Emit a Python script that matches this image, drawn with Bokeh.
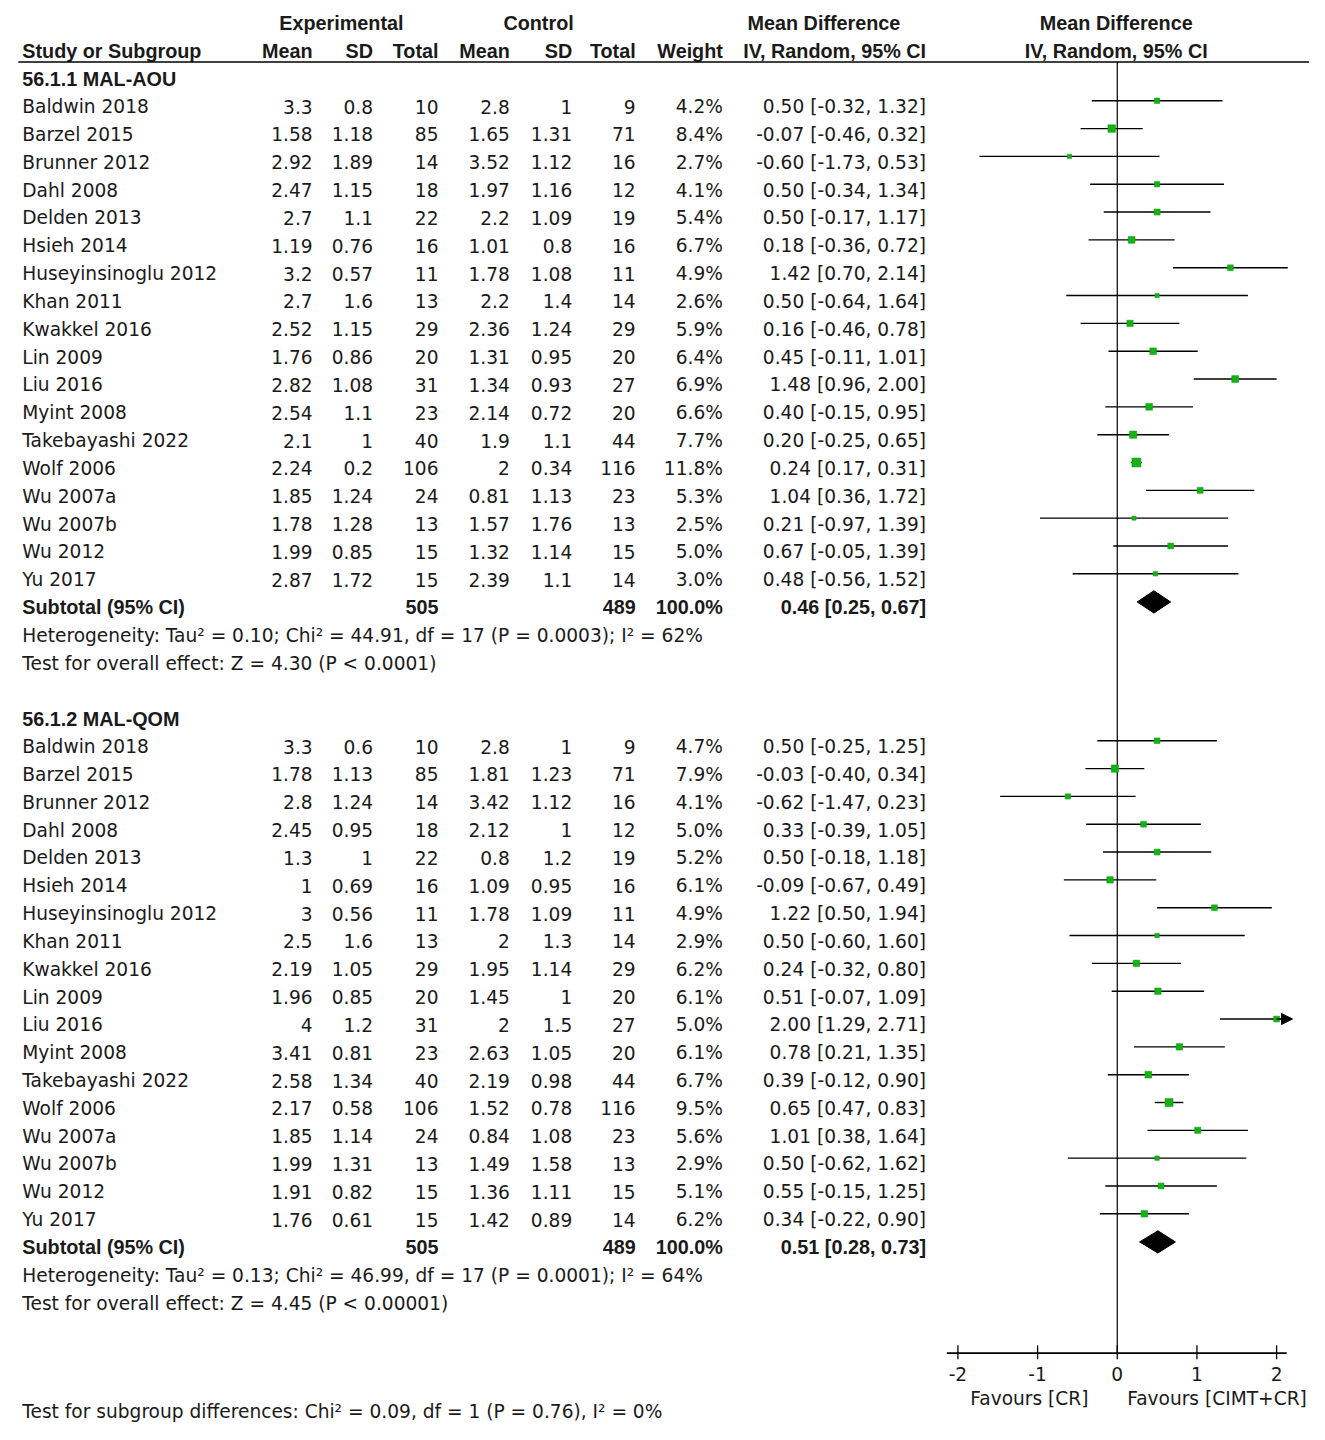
from bokeh.plotting import figure
from bokeh.models import Range1d, Arrow, NormalHead
from bokeh.core.properties import value
from bokeh.embed import file_html
from bokeh.resources import INLINE

# ---------------- data ----------------
studies = ["Baldwin 2018", "Barzel 2015", "Brunner 2012", "Dahl 2008", "Delden 2013",
           "Hsieh 2014", "Huseyinsinoglu 2012", "Khan 2011", "Kwakkel 2016", "Lin 2009",
           "Liu 2016", "Myint 2008", "Takebayashi 2022", "Wolf 2006", "Wu 2007a",
           "Wu 2007b", "Wu 2012", "Yu 2017"]

g1_title = "56.1.1 MAL-AOU"
g1_exp_mean = [3.3, 1.58, 2.92, 2.47, 2.7, 1.19, 3.2, 2.7, 2.52, 1.76, 2.82, 2.54, 2.1, 2.24, 1.85, 1.78, 1.99, 2.87]
g1_exp_sd = [0.8, 1.18, 1.89, 1.15, 1.1, 0.76, 0.57, 1.6, 1.15, 0.86, 1.08, 1.1, 1, 0.2, 1.24, 1.28, 0.85, 1.72]
g1_exp_n = [10, 85, 14, 18, 22, 16, 11, 13, 29, 20, 31, 23, 40, 106, 24, 13, 15, 15]
g1_ctl_mean = [2.8, 1.65, 3.52, 1.97, 2.2, 1.01, 1.78, 2.2, 2.36, 1.31, 1.34, 2.14, 1.9, 2, 0.81, 1.57, 1.32, 2.39]
g1_ctl_sd = [1, 1.31, 1.12, 1.16, 1.09, 0.8, 1.08, 1.4, 1.24, 0.95, 0.93, 0.72, 1.1, 0.34, 1.13, 1.76, 1.14, 1.1]
g1_ctl_n = [9, 71, 16, 12, 19, 16, 11, 14, 29, 20, 27, 20, 44, 116, 23, 13, 15, 14]
g1_weight = [4.2, 8.4, 2.7, 4.1, 5.4, 6.7, 4.9, 2.6, 5.9, 6.4, 6.9, 6.6, 7.7, 11.8, 5.3, 2.5, 5.0, 3.0]
g1_md = [0.50, -0.07, -0.60, 0.50, 0.50, 0.18, 1.42, 0.50, 0.16, 0.45, 1.48, 0.40, 0.20, 0.24, 1.04, 0.21, 0.67, 0.48]
g1_lo = [-0.32, -0.46, -1.73, -0.34, -0.17, -0.36, 0.70, -0.64, -0.46, -0.11, 0.96, -0.15, -0.25, 0.17, 0.36, -0.97, -0.05, -0.56]
g1_hi = [1.32, 0.32, 0.53, 1.34, 1.17, 0.72, 2.14, 1.64, 0.78, 1.01, 2.00, 0.95, 0.65, 0.31, 1.72, 1.39, 1.39, 1.52]
g1_total = [505, 489]
g1_sub = [0.46, 0.25, 0.67]
g1_het = "Heterogeneity: Tau\u00b2 = 0.10; Chi\u00b2 = 44.91, df = 17 (P = 0.0003); I\u00b2 = 62%"
g1_test = "Test for overall effect: Z = 4.30 (P < 0.0001)"

g2_title = "56.1.2 MAL-QOM"
g2_exp_mean = [3.3, 1.78, 2.8, 2.45, 1.3, 1, 3, 2.5, 2.19, 1.96, 4, 3.41, 2.58, 2.17, 1.85, 1.99, 1.91, 1.76]
g2_exp_sd = [0.6, 1.13, 1.24, 0.95, 1, 0.69, 0.56, 1.6, 1.05, 0.85, 1.2, 0.81, 1.34, 0.58, 1.14, 1.31, 0.82, 0.61]
g2_exp_n = [10, 85, 14, 18, 22, 16, 11, 13, 29, 20, 31, 23, 40, 106, 24, 13, 15, 15]
g2_ctl_mean = [2.8, 1.81, 3.42, 2.12, 0.8, 1.09, 1.78, 2, 1.95, 1.45, 2, 2.63, 2.19, 1.52, 0.84, 1.49, 1.36, 1.42]
g2_ctl_sd = [1, 1.23, 1.12, 1, 1.2, 0.95, 1.09, 1.3, 1.14, 1, 1.5, 1.05, 0.98, 0.78, 1.08, 1.58, 1.11, 0.89]
g2_ctl_n = [9, 71, 16, 12, 19, 16, 11, 14, 29, 20, 27, 20, 44, 116, 23, 13, 15, 14]
g2_weight = [4.7, 7.9, 4.1, 5.0, 5.2, 6.1, 4.9, 2.9, 6.2, 6.1, 5.0, 6.1, 6.7, 9.5, 5.6, 2.9, 5.1, 6.2]
g2_md = [0.50, -0.03, -0.62, 0.33, 0.50, -0.09, 1.22, 0.50, 0.24, 0.51, 2.00, 0.78, 0.39, 0.65, 1.01, 0.50, 0.55, 0.34]
g2_lo = [-0.25, -0.40, -1.47, -0.39, -0.18, -0.67, 0.50, -0.60, -0.32, -0.07, 1.29, 0.21, -0.12, 0.47, 0.38, -0.62, -0.15, -0.22]
g2_hi = [1.25, 0.34, 0.23, 1.05, 1.18, 0.49, 1.94, 1.60, 0.80, 1.09, 2.71, 1.35, 0.90, 0.83, 1.64, 1.62, 1.25, 0.90]
g2_total = [505, 489]
g2_sub = [0.51, 0.28, 0.73]
g2_het = "Heterogeneity: Tau\u00b2 = 0.13; Chi\u00b2 = 46.99, df = 17 (P = 0.0001); I\u00b2 = 64%"
g2_test = "Test for overall effect: Z = 4.45 (P < 0.00001)"

subgroup_test = "Test for subgroup differences: Chi\u00b2 = 0.09, df = 1 (P = 0.76), I\u00b2 = 0%"
axis_ticks = [-2, -1, 0, 1, 2]
axis_labels = ["-2", "-1", "0", "1", "2"]
favours_left = "Favours [CR]"
favours_right = "Favours [CIMT+CR]"

# ---------------- layout constants (reference-pixel space) ----------------
W, H = 1309, 1424
REF_W, REF_H = 1321.0, 1437.0
ZERO_PX, UNIT_PX = 1127.0, 80.4
ROW0_PX, ROW_PX = 79.0, 28.08
CLIP = 2.2

def px_to_md(px):
    return (px - ZERO_PX) / UNIT_PX

def px_to_row(py):
    return (py - ROW0_PX) / ROW_PX

p = figure(width=W, height=H, output_backend="svg", toolbar_location=None,
           x_range=Range1d(px_to_md(0), px_to_md(REF_W)),
           y_range=Range1d(px_to_row(REF_H), px_to_row(0)),
           min_border=0, min_border_left=0, min_border_right=0,
           min_border_top=0, min_border_bottom=0)
p.extra_x_ranges = {"px": Range1d(0, REF_W)}
p.xaxis.visible = False
p.yaxis.visible = False
p.grid.visible = False
p.outline_line_color = None
p.background_fill_color = "white"

FONT = value("DejaVu Sans")
BFONT = value("Liberation Sans")
FS = "18.6px"
BFS = "19.8px"
TXT = "#1a1a1a"

def txt(x, y, s, align="left", bold=False, rng="px"):
    p.text(x=[x], y=[y], text=[s], x_range_name=rng, text_align=align,
           text_baseline="middle", text_font=BFONT if bold else FONT,
           text_font_size=BFS if bold else FS,
           text_font_style="bold" if bold else "normal", text_color=TXT)

def fmt(v):
    return f"{v:g}"

# column anchors (reference px)
C_NAME = 22
C_EM, C_ESD, C_EN = 315, 376, 442
C_CM, C_CSD, C_CN = 514, 577, 641
C_W, C_CI = 729, 934

# header
txt(344, -2, "Experimental", "center", True)
txt(543, -2, "Control", "center", True)
txt(831, -2, "Mean Difference", "center", True)
txt(1126, -2, "Mean Difference", "center", True)
txt(C_NAME, -1, "Study or Subgroup", "left", True)
for x, s in [(C_EM, "Mean"), (C_ESD, "SD"), (C_EN, "Total"), (C_CM, "Mean"),
             (C_CSD, "SD"), (C_CN, "Total"), (C_W, "Weight"), (C_CI, "IV, Random, 95% CI")]:
    txt(x, -1, s, "right", True)
txt(1126, -1, "IV, Random, 95% CI", "center", True)

# header rule
p.segment(x0=[18], x1=[1321], y0=[px_to_row(62)], y1=[px_to_row(62)],
          x_range_name="px", line_color="black", line_width=1.6)

# zero line
p.segment(x0=[0], x1=[0], y0=[px_to_row(62)], y1=[px_to_row(1365)],
          line_color="black", line_width=1.2)

def group(start, title, em, esd, en, cm, csd, cn, w, md, lo, hi, total, sub, het, test):
    txt(C_NAME, start, title, "left", True)
    rows = [start + 1 + i for i in range(len(studies))]
    cols = [(C_EM, [fmt(v) for v in em]), (C_ESD, [fmt(v) for v in esd]),
            (C_EN, [fmt(v) for v in en]), (C_CM, [fmt(v) for v in cm]),
            (C_CSD, [fmt(v) for v in csd]), (C_CN, [fmt(v) for v in cn]),
            (C_W, [f"{v:.1f}%" for v in w]),
            (C_CI, [f"{m:.2f} [{a:.2f}, {b:.2f}]" for m, a, b in zip(md, lo, hi)])]
    p.text(x=[C_NAME] * len(rows), y=rows, text=studies, x_range_name="px",
           text_align="left", text_baseline="middle", text_font=FONT,
           text_font_size=FS, text_color=TXT)
    for x, labels in cols:
        p.text(x=[x] * len(rows), y=rows, text=labels, x_range_name="px",
               text_align="right", text_baseline="middle", text_font=FONT,
               text_font_size=FS, text_color=TXT)
    # CI lines and squares
    my = [r - 0.21 for r in rows]
    hi_d = [min(b, CLIP - 0.06) for b in hi]
    p.segment(x0=lo, x1=hi_d, y0=my, y1=my, line_color="black", line_width=1.4)
    for b, yy in zip(hi, my):
        if b > CLIP:
            p.add_layout(Arrow(end=NormalHead(size=11, fill_color="black", line_color="black"),
                               x_start=CLIP - 0.2, x_end=CLIP, y_start=yy, y_end=yy,
                               line_color="black", line_width=1.4))
    p.scatter(x=md, y=my, marker="square", size=[2.6 * v ** 0.5 for v in w],
              fill_color="#13b313", line_color="#0a9a0a", line_width=0.5)
    # subtotal
    srow = start + 1 + len(studies)
    txt(C_NAME, srow, "Subtotal (95% CI)", "left", True)
    txt(C_EN, srow, str(total[0]), "right", True)
    txt(C_CN, srow, str(total[1]), "right", True)
    txt(C_W, srow, "100.0%", "right", True)
    txt(C_CI, srow, f"{sub[0]:.2f} [{sub[1]:.2f}, {sub[2]:.2f}]", "right", True)
    dy = srow - 0.2
    h = 0.4
    p.patch(x=[sub[1], sub[0], sub[2], sub[0]], y=[dy, dy - h, dy, dy + h],
            fill_color="black", line_color="black")
    txt(C_NAME, srow + 1, het)
    txt(C_NAME, srow + 2, test)

group(0, g1_title, g1_exp_mean, g1_exp_sd, g1_exp_n, g1_ctl_mean, g1_ctl_sd, g1_ctl_n,
      g1_weight, g1_md, g1_lo, g1_hi, g1_total, g1_sub, g1_het, g1_test)
group(23, g2_title, g2_exp_mean, g2_exp_sd, g2_exp_n, g2_ctl_mean, g2_ctl_sd, g2_ctl_n,
      g2_weight, g2_md, g2_lo, g2_hi, g2_total, g2_sub, g2_het, g2_test)

# forest axis
ay = px_to_row(1365)
p.segment(x0=[px_to_md(955)], x1=[px_to_md(1298)], y0=[ay], y1=[ay],
          line_color="black", line_width=1.6)
p.segment(x0=axis_ticks, x1=axis_ticks, y0=[ay - 0.28] * 5, y1=[ay + 0.22] * 5,
          line_color="black", line_width=1.3)
p.text(x=axis_ticks, y=[px_to_row(1386)] * 5, text=axis_labels, text_align="center",
       text_baseline="middle", text_font=FONT, text_font_size=FS, text_color=TXT)
p.text(x=[px_to_md(1098)], y=[px_to_row(1411)], text=[favours_left], text_align="right",
       text_baseline="middle", text_font=FONT, text_font_size=FS, text_color=TXT)
p.text(x=[px_to_md(1137)], y=[px_to_row(1411)], text=[favours_right], text_align="left",
       text_baseline="middle", text_font=FONT, text_font_size=FS, text_color=TXT)

txt(C_NAME, px_to_row(1424), subgroup_test)

open("out.html", "w").write(file_html(p, INLINE))
